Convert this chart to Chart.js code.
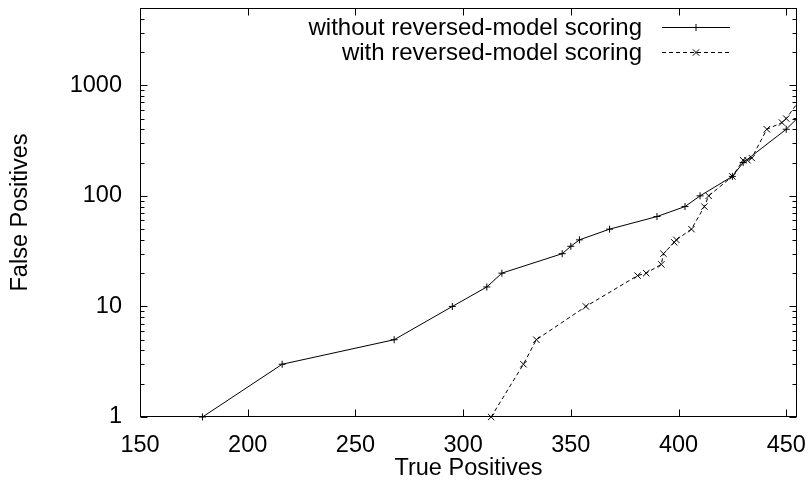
<!DOCTYPE html>
<html>
<head>
<meta charset="utf-8">
<script src="https://cdn.jsdelivr.net/npm/chart.js@4"></script>
<style>
  html, body { margin: 0; padding: 0; background: #fff; }
</style>
</head>
<body>
<canvas id="chart" width="808" height="490"></canvas>
<script>
// valores (TP no eixo x, FP no eixo y log)
const withoutTP = [179, 216, 268, 295, 311, 318, 346, 350, 354, 368, 390, 403, 410, 425, 430, 450, 455];
const withoutFP = [1, 3, 5, 10, 15, 20, 30, 35, 40, 50, 65, 80, 100, 150, 200, 400, 500];

const withTP = [313, 328, 334, 357, 381, 385, 392, 393, 398, 399, 406, 412, 414, 425, 430, 432, 434, 441, 448, 450, 460];
const withFP = [1, 3, 5, 10, 19, 20, 24, 30, 38, 40, 50, 80, 100, 150, 210, 210, 220, 400, 460, 500, 930];

const seriesLabels = ['without reversed-model scoring', 'with reversed-model scoring'];
const xTicks = [150, 200, 250, 300, 350, 400, 450];
const yTicks = [1, 10, 100, 1000];

const FAMILY = '"Liberation Sans", Arial, sans-serif';
const SIZE = 23.5;

function toPoints(xs, ys) {
    return xs.map((x, i) => ({ x: x, y: ys[i] }));
}

// zera o padding automático dos rótulos para fixar a área do gráfico
function noPad(s) {
    s.paddingLeft = 0; s.paddingRight = 0; s.paddingTop = 0; s.paddingBottom = 0;
}

// moldura + ticks para dentro (estilo gnuplot)
const frameTicks = {
    id: 'frameTicks',
    beforeDatasetsDraw(chart) {
        const { ctx, chartArea: a, scales: { x, y } } = chart;
        const L = Math.round(a.left) + 0.5, R = Math.round(a.right) - 0.5;
        const T = Math.round(a.top) + 0.5, B = Math.round(a.bottom) - 0.5;
        ctx.save();
        ctx.strokeStyle = '#000';
        ctx.lineWidth = 1;
        ctx.beginPath();
        xTicks.forEach(v => {
            const px = Math.round(x.getPixelForValue(v)) + 0.5;
            ctx.moveTo(px, B); ctx.lineTo(px, B - 7);
            ctx.moveTo(px, T); ctx.lineTo(px, T + 7);
        });
        for (let d = 1; d <= 1000; d *= 10) {
            for (let m = 1; m <= 9; m++) {
                const v = d * m;
                if (v > y.max) break;
                const len = m === 1 ? 7 : 4;
                const py = Math.round(y.getPixelForValue(v)) + 0.5;
                ctx.moveTo(L, py); ctx.lineTo(L + len, py);
                ctx.moveTo(R, py); ctx.lineTo(R - len, py);
            }
        }
        ctx.stroke();
        ctx.strokeRect(L, T, R - L, B - T);
        ctx.restore();
    }
};

// legenda no canto superior direito, texto à esquerda da amostra
const keyBox = {
    id: 'keyBox',
    afterDraw(chart) {
        const { ctx } = chart;
        const rows = [27, 52];
        ctx.save();
        ctx.font = (SIZE + 0.5) + 'px ' + FAMILY;
        ctx.fillStyle = '#000';
        ctx.textAlign = 'right';
        ctx.textBaseline = 'middle';
        chart.data.datasets.forEach((ds, i) => {
            const yy = rows[i] + 0.5;
            ctx.fillText(seriesLabels[i], 642, rows[i] + 1);
            ctx.strokeStyle = '#000';
            ctx.lineWidth = 1;
            ctx.setLineDash(ds.borderDash || []);
            ctx.beginPath();
            ctx.moveTo(662, yy);
            ctx.lineTo(730, yy);
            ctx.stroke();
            ctx.setLineDash([]);
            Chart.helpers.drawPoint(ctx, {
                pointStyle: ds.pointStyle,
                radius: ds.pointRadius,
                borderWidth: 1,
                rotation: 0
            }, 696, yy);
        });
        ctx.restore();
    }
};

new Chart(document.getElementById('chart'), {
    type: 'line',
    data: {
        datasets: [{
            label: seriesLabels[0],
            data: toPoints(withoutTP, withoutFP),
            borderColor: '#000',
            backgroundColor: '#000',
            borderWidth: 1,
            pointStyle: 'cross',
            pointRadius: 3.5,
            pointBorderWidth: 1,
            pointBorderColor: '#000',
            tension: 0,
            fill: false,
            clip: { left: 5, top: 0, right: 0, bottom: 6 }
        }, {
            label: seriesLabels[1],
            data: toPoints(withTP, withFP),
            borderColor: '#000',
            backgroundColor: '#000',
            borderWidth: 1,
            borderDash: [4, 3],
            pointStyle: 'crossRot',
            pointRadius: 4.5,
            pointBorderWidth: 1,
            pointBorderColor: '#000',
            tension: 0,
            fill: false,
            clip: { left: 5, top: 0, right: 0, bottom: 6 }
        }]
    },
    options: {
        responsive: false,
        animation: false,
        devicePixelRatio: 1,
        layout: { padding: { left: 0, right: 11, top: 8, bottom: 0 } },
        plugins: {
            legend: { display: false },
            tooltip: { enabled: false }
        },
        scales: {
            x: {
                type: 'linear',
                min: 150,
                max: 455,
                afterBuildTicks: s => { s.ticks = xTicks.map(v => ({ value: v })); },
                afterFit: s => { s.height = 73; noPad(s); },
                grid: { display: false, drawTicks: false },
                border: { display: false },
                ticks: {
                    color: '#000',
                    font: { family: FAMILY, size: SIZE },
                    padding: 14,
                    maxRotation: 0,
                    callback: v => String(v)
                },
                title: {
                    display: true,
                    text: 'True Positives',
                    color: '#000',
                    font: { family: FAMILY, size: SIZE },
                    padding: { top: 0, bottom: 7 }
                }
            },
            y: {
                type: 'logarithmic',
                min: 1,
                max: 5000,
                afterBuildTicks: s => { s.ticks = yTicks.map(v => ({ value: v })); },
                afterFit: s => { s.width = 140; noPad(s); },
                grid: { display: false, drawTicks: false },
                border: { display: false },
                ticks: {
                    color: '#000',
                    font: { family: FAMILY, size: SIZE },
                    padding: 18,
                    callback: v => String(v)
                },
                title: {
                    display: true,
                    text: 'False Positives',
                    color: '#000',
                    font: { family: FAMILY, size: SIZE },
                    padding: { top: 6, bottom: 0 }
                }
            }
        }
    },
    plugins: [frameTicks, keyBox]
});
</script>
</body>
</html>
